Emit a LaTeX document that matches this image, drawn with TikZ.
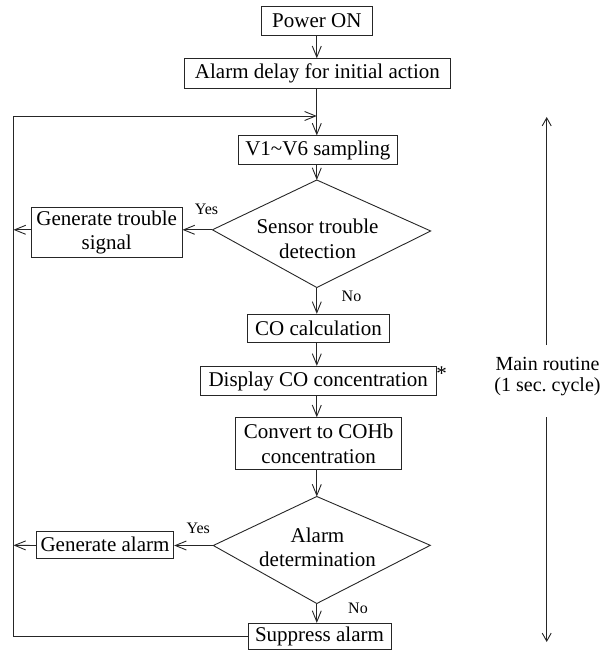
\documentclass[tikz,border=0pt]{standalone}
\usepackage{fontspec}
\setmainfont{Liberation Serif}
\usetikzlibrary{arrows.meta}
\tikzset{
  base/.style={line width=0.9pt, draw=black!85},
  arr/.style={base, -{Straight Barb[length=11pt,width=9pt,line width=0.9pt]}},
  arrs/.style={base, -{Straight Barb[length=8pt,width=9pt,line width=0.9pt]}},
  procbox/.style={base, rectangle, inner sep=0pt, align=center, font=\fontsize{21}{24.5}\selectfont},
  lbl/.style={inner sep=0pt, font=\fontsize{16}{18}\selectfont},
  plain/.style={inner sep=0pt, align=center, font=\fontsize{21}{24.5}\selectfont},
}
\begin{document}
\begin{tikzpicture}[x=1pt,y=-1pt]
\useasboundingbox (0,0) rectangle (613,650);
% boxes
\node[procbox, minimum width=110.6pt, minimum height=29pt] (pwr) at (316.8,20.7) {Power ON};
\node[procbox, minimum width=266.4pt, minimum height=29.6pt] (delay) at (317.4,73.5) {Alarm delay for initial action};
\node[procbox, minimum width=159.3pt, minimum height=28.3pt] (samp) at (317.8,150) {V1\char"007E V6 sampling};
\node[procbox, minimum width=150.7pt, minimum height=50.7pt] (trouble) at (106.7,232.3) {Generate trouble\\signal};
\node[procbox, minimum width=142.5pt, minimum height=28pt] (cocalc) at (318.5,328.3) {CO calculation};
\node[procbox, minimum width=235.6pt, minimum height=29.4pt] (disp) at (318.2,381) {Display CO concentration};
\node[procbox, minimum width=166pt, minimum height=52pt] (conv) at (318.6,443.7) {Convert to COHb\\concentration};
\node[procbox, minimum width=137.5pt, minimum height=27pt] (genal) at (105,544.5) {Generate alarm};
\node[procbox, minimum width=143pt, minimum height=26.5pt] (supp) at (319.5,636.6) {Suppress alarm};
% diamond 1
\coordinate (d1t) at (316.8,180);
\coordinate (d1r) at (430.7,231);
\coordinate (d1b) at (316.8,287.5);
\coordinate (d1l) at (212.4,229.8);
\draw[base] (d1t) -- (d1r) -- (d1b) -- (d1l) -- cycle;
\node[plain] (d1txt) at (317.5,239) {Sensor trouble\\detection};
% diamond 2
\coordinate (d2t) at (316.8,496.5);
\coordinate (d2r) at (430.3,545.3);
\coordinate (d2b) at (316.8,603.5);
\coordinate (d2l) at (213.3,545.5);
\draw[base] (d2t) -- (d2r) -- (d2b) -- (d2l) -- cycle;
\node[plain] (d2txt) at (317.5,547.5) {Alarm\\determination};
% labels
\node[lbl] (yes1) at (206.5,209.3) {Yes};
\node[lbl] (no1) at (351.5,296.7) {No};
\node[lbl] (yes2) at (198.3,528.3) {Yes};
\node[lbl] (no2) at (358,608.3) {No};
\node[plain] (star) at (441.5,374) {*};
% loop coordinates
\coordinate (junc) at (316.8,116);
\coordinate (ltop) at (13.5,116);
\coordinate (lbot) at (13.5,636.6);
\coordinate (ltrb) at (13.5,229.8);
\coordinate (lalm) at (13.5,545.3);
% main flow
\draw[arr] (pwr.south -| junc) -- (delay.north -| junc);
\draw[base] (delay.south -| junc) -- (junc);
\draw[arr] (junc) -- (samp.north -| junc);
\draw[arr] (samp.south -| junc) -- (d1t);
\draw[arr] (d1l) -- (trouble.east |- d1l);
\draw[arr] (trouble.west |- d1l) -- (ltrb);
\draw[arr] (d1b) -- (cocalc.north -| junc);
\draw[arr] (cocalc.south -| junc) -- (disp.north -| junc);
\draw[arr] (disp.south -| junc) -- (conv.north -| junc);
\draw[arr] (conv.south -| junc) -- (d2t);
\draw[arr] (d2l) -- (genal.east |- d2l);
\draw[arr] (genal.west |- d2l) -- (lalm);
\draw[arr] (d2b) -- (supp.north -| junc);
\draw[arr] (supp.west) -- (lbot) -- (ltop) -- (junc);
% main routine
\node[plain, font=\fontsize{20}{21}\selectfont] (mr) at (547.5,377) {Main routine\\(1 sec.\ cycle)};
\coordinate (mrt) at (546.7,117);
\coordinate (mrb) at (546.7,642);
\coordinate (mru) at (546.7,345);
\coordinate (mrd) at (546.7,417);
\draw[arrs] (mru) -- (mrt);
\draw[arrs] (mrd) -- (mrb);
\end{tikzpicture}
\end{document}
